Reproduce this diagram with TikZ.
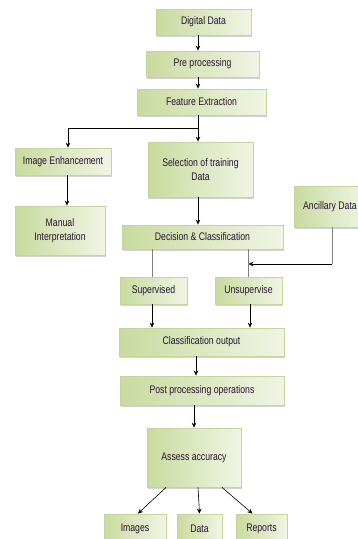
\documentclass[tikz,border=0pt]{standalone}
\usepackage{fontspec}
\setmainfont{Liberation Sans}[FakeStretch=0.79]
\usetikzlibrary{arrows.meta,shadows}
\definecolor{boxleft}{RGB}{200,219,158}
\definecolor{boxright}{RGB}{240,245,228}
\definecolor{boxline}{RGB}{194,213,155}
\definecolor{boxtext}{RGB}{40,20,55}
\tikzset{
  stage/.style={draw=boxline, line width=0.8pt, left color=boxleft, right color=boxright,
    drop shadow={shadow xshift=1pt, shadow yshift=-1.5pt, opacity=0.35},
    inner sep=0pt, align=center, text=boxtext, font=\fontsize{11}{13.5}\selectfont},
  arr/.style={-{Stealth[length=5pt,width=4.5pt]}, line width=0.6pt},
  feed/.style={gray, line width=0.6pt}
}
\begin{document}
\begin{tikzpicture}[x=1pt,y=-1pt]
	\useasboundingbox (0,0) rectangle (358,539);
	% boxes
	\node [stage, minimum width=95, minimum height=26] (digital) at (203.5,22) {Digital Data};
	\node [stage, minimum width=113, minimum height=26] (preproc) at (202.5,64) {Pre processing};
	\node [stage, minimum width=129, minimum height=26] (feature) at (201.5,102) {Feature Extraction};
	\node [stage, minimum width=96, minimum height=27] (enhance) at (63,161.5) {Image Enhancement};
	\node [stage, minimum width=105, minimum height=55] (selection) at (200.5,169.5) {Selection of training\\Data};
	\node [stage, minimum width=90, minimum height=49] (manual) at (60,230.5) {Manual\\Interpretation};
	\node [stage, minimum width=72, minimum height=41] (ancillary) at (330,206.5) {Ancillary Data};
	\node [stage, minimum width=161, minimum height=24] (decision) at (202.5,237) {Decision \& Classification};
	\node [stage, minimum width=67, minimum height=27] (supervised) at (153.5,290.5) {Supervised};
	\node [stage, minimum width=67, minimum height=27] (unsupervised) at (248.5,290.5) {\raisebox{2pt}{Unsupervise}};
	\node [stage, minimum width=165, minimum height=28] (classout) at (201.5,342) {Classification output};
	\node [stage, minimum width=164, minimum height=29] (postproc) at (202,390.5) {Post processing operations};
	\node [stage, minimum width=94, minimum height=59] (assess) at (194,457.5) {Assess accuracy};
	\node [stage, minimum width=62, minimum height=30] (images) at (135,529) {Images};
	\node [stage, minimum width=45, minimum height=30] (data) at (199.5,529) {Data};
	\node [stage, minimum width=51, minimum height=30] (reports) at (261.5,529) {Reports};
	\coordinate (split) at (198,128);
	\coordinate (join) at (332,264);
	% connectors
	\draw [arr] (digital.south -| split) -- (preproc.north -| split);
	\draw [arr] (preproc.south -| split) -- (feature.north -| split);
	\draw [line width=0.6pt] (feature.south -| split) -- (split);
	\draw [arr] (split) -- (selection.north -| split);
	\draw [arr] (split) -| ([xshift=5pt]enhance.north);
	\draw [arr] ([xshift=4pt]enhance.south) -- ([xshift=4pt]enhance.south |- manual.north);
	\draw [arr] (selection.south -| split) -- (decision.north -| split);
	\draw [feed] (decision.south -| supervised.north) ++(-1.5,0) -- ++(0,28);
	\draw [feed] (decision.south -| unsupervised.north) -- (unsupervised.north);
	\draw [feed] (ancillary.south -| join) -- (join);
	\draw [arr] (join) -- (join -| unsupervised.north);
	\draw [arr] ([xshift=-1.5pt]supervised.south) -- ([xshift=-1.5pt]supervised.south |- classout.north);
	\draw [arr] ([xshift=1.5pt]unsupervised.south) -- ([xshift=1.5pt]unsupervised.south |- classout.north);
	\draw [arr] ([xshift=-5.5pt]classout.south) -- ([xshift=-5.5pt]classout.south |- postproc.north);
	\draw [arr] ([xshift=-8pt]postproc.south) -- ([xshift=-8pt]postproc.south |- assess.north);
	\draw [arr] ([xshift=-28pt]assess.south) -- ([xshift=3pt]images.north);
	\draw [arr] ([xshift=4pt]assess.south) -- (data.north);
	\draw [arr] ([xshift=28pt]assess.south) -- ([xshift=-9pt]reports.north);
\end{tikzpicture}
\end{document}
